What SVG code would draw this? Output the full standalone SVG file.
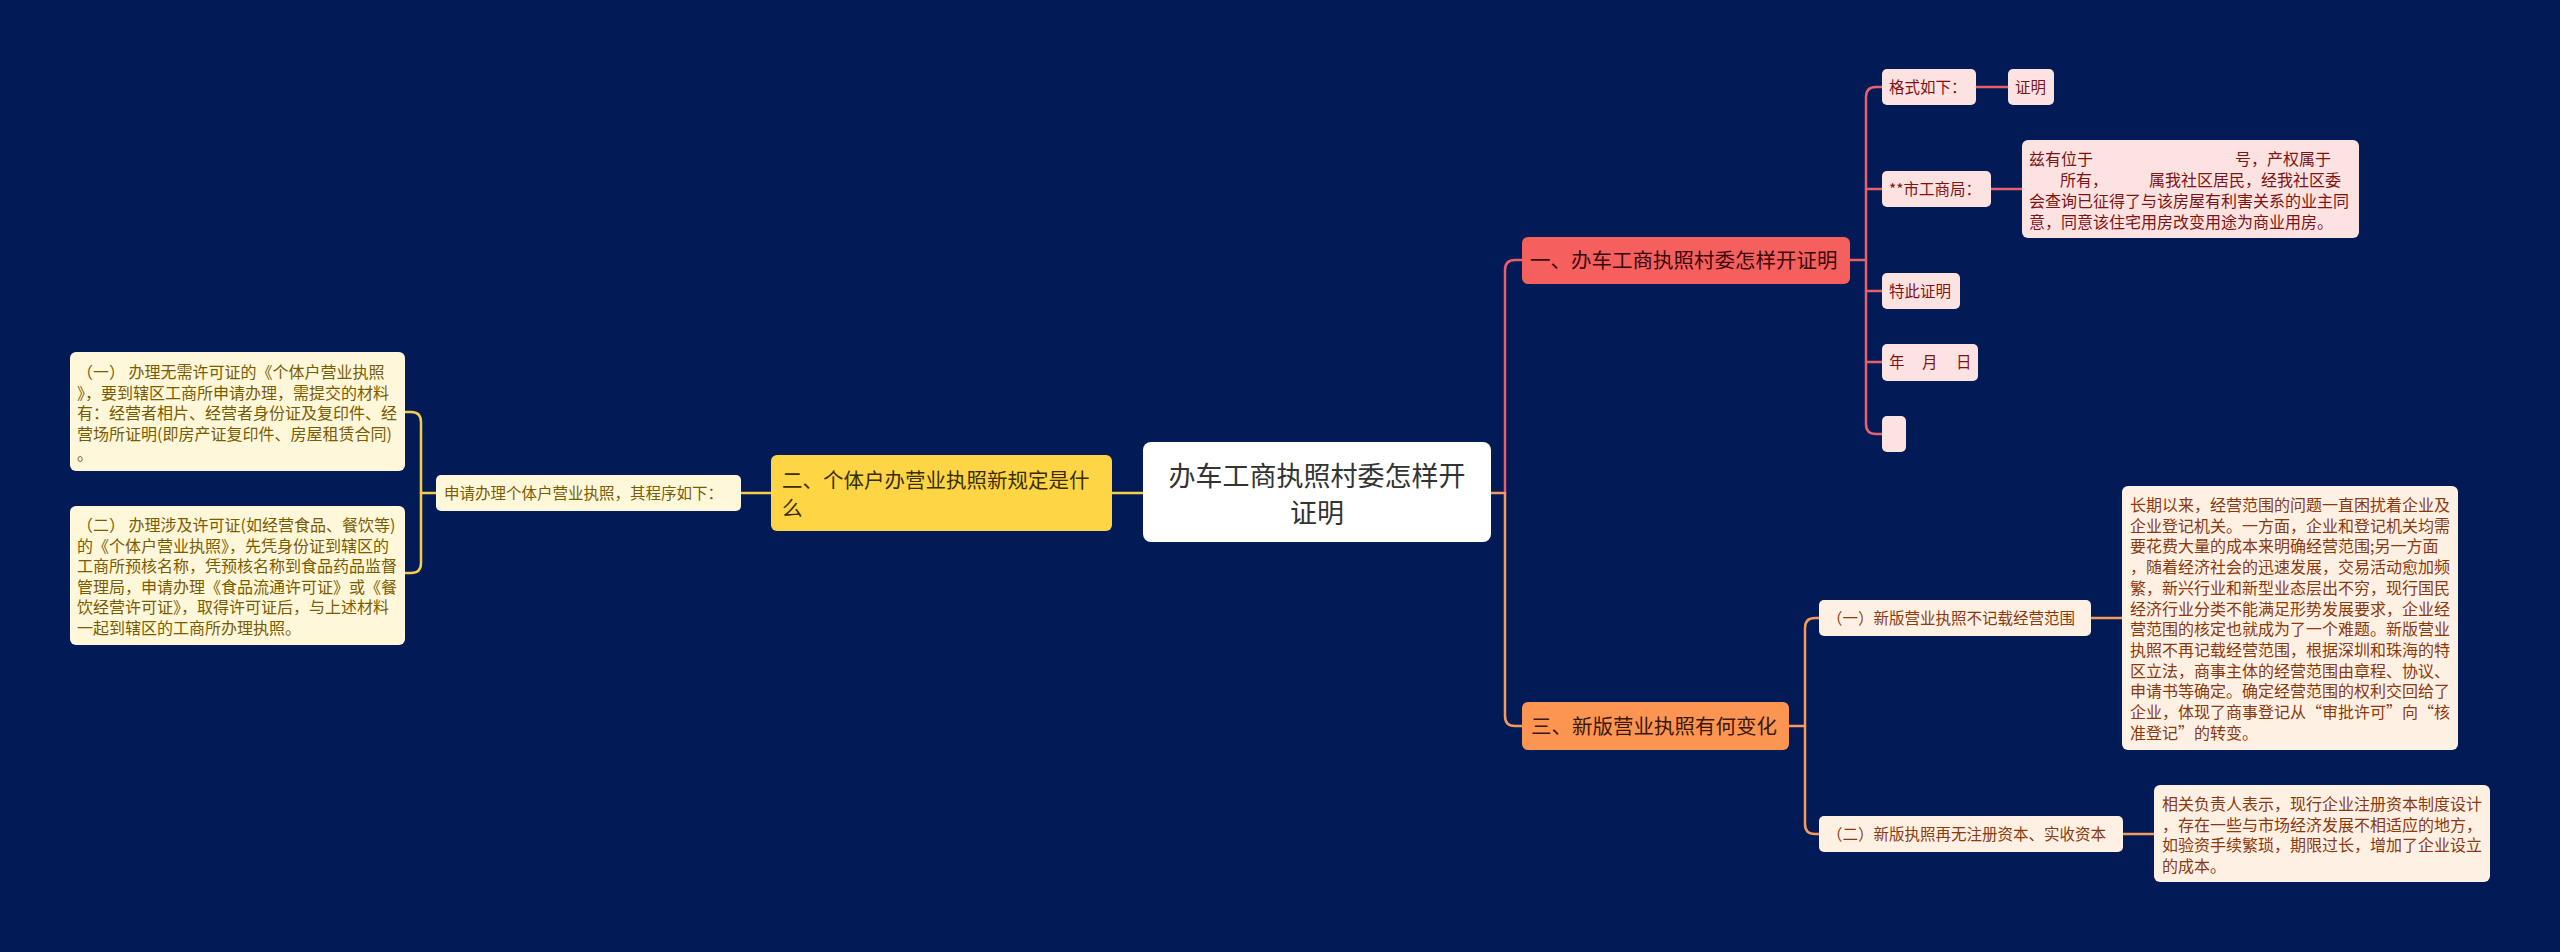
<svg xmlns="http://www.w3.org/2000/svg" width="2560" height="952" viewBox="0 0 2560 952">
<style>
text{font-family:"Noto Sans CJK SC","Noto Sans",sans-serif;}
.c{fill:none;stroke-width:2.5;stroke-linecap:round;stroke-linejoin:round;}
.cy{stroke:#f2cf45;}
.cr{stroke:#e8606a;}
.co{stroke:#f59a5c;}
.t16{font-size:16px;}
.t15{font-size:15.5px;}
.t20{font-size:20.5px;}
.ty{fill:#7a5c00;}
.tr{fill:#7d1414;}
.to{fill:#8a3a0e;}
.by{fill:#fff7da;}
.br{fill:#fde2e2;}
.bo{fill:#fff0e4;}
</style>
<rect width="2560" height="952" fill="#021a56"/>
<g id="connectors">
<path class="c cy" d="M1143,493 H1112"/>
<path class="c cy" d="M771,493 H741"/>
<path class="c cy" d="M436,493 H421"/>
<path class="c cy" d="M405,412 H411 Q421,412 421,422 V563 Q421,573 411,573 H405"/>
<path class="c co" d="M1491,493 H1505"/>
<path class="c cr" d="M1505,493 V270 Q1505,260 1515,260 H1522"/>
<path class="c co" d="M1505,493 V716 Q1505,726 1515,726 H1522"/>
<path class="c cr" d="M1850,260 H1866"/>
<path class="c cr" d="M1882,87 H1876 Q1866,87 1866,97 V424 Q1866,434 1876,434 H1882"/>
<path class="c cr" d="M1866,189 H1882 M1866,291 H1882 M1866,362 H1882"/>
<path class="c cr" d="M1976,87 H2008"/>
<path class="c cr" d="M1991,189 H2022"/>
<path class="c co" d="M1789,726 H1805"/>
<path class="c co" d="M1819,618 H1815 Q1805,618 1805,628 V824 Q1805,834 1815,834 H1819"/>
<path class="c co" d="M2091,618 H2122"/>
<path class="c co" d="M2123,834 H2154"/>
</g>
<g id="root">
<rect x="1143" y="442" width="348" height="100" rx="8" fill="#ffffff"/>
<text x="1317" y="486" font-size="27" fill="#333333" text-anchor="middle">办车工商执照村委怎样开</text>
<text x="1317" y="523" font-size="27" fill="#333333" text-anchor="middle">证明</text>
</g>
<g id="n2">
<rect x="771" y="455" width="341" height="76" rx="6" fill="#fdd545"/>
<text class="t20" x="782" y="487.5" fill="#3a2e00">二、个体户办营业执照新规定是什</text>
<text class="t20" x="782" y="515.5" fill="#3a2e00">么</text>
</g>
<g id="n2a">
<rect class="by" x="436" y="475" width="305" height="36" rx="5"/>
<text class="t15 ty" x="444" y="498.5">申请办理个体户营业执照，其程序如下：</text>
</g>
<g id="n2a1">
<rect class="by" x="70" y="352" width="335" height="119" rx="6"/>
<text class="t16 ty" x="77" y="378" xml:space="preserve">（一） 办理无需许可证的《个体户营业执照</text>
<text class="t16 ty" x="77" y="398.5">》，要到辖区工商所申请办理，需提交的材料</text>
<text class="t16 ty" x="77" y="419">有：经营者相片、经营者身份证及复印件、经</text>
<text class="t16 ty" x="77" y="439.5">营场所证明(即房产证复印件、房屋租赁合同)</text>
<text class="t16 ty" x="77" y="460">。</text>
</g>
<g id="n2a2">
<rect class="by" x="70" y="506" width="335" height="139" rx="6"/>
<text class="t16 ty" x="77" y="531" xml:space="preserve">（二） 办理涉及许可证(如经营食品、餐饮等)</text>
<text class="t16 ty" x="77" y="551.5">的《个体户营业执照》，先凭身份证到辖区的</text>
<text class="t16 ty" x="77" y="572">工商所预核名称，凭预核名称到食品药品监督</text>
<text class="t16 ty" x="77" y="592.5">管理局，申请办理《食品流通许可证》或《餐</text>
<text class="t16 ty" x="77" y="613">饮经营许可证》，取得许可证后，与上述材料</text>
<text class="t16 ty" x="77" y="633.5">一起到辖区的工商所办理执照。</text>
</g>
<g id="n1">
<rect x="1522" y="237" width="328" height="47" rx="6" fill="#f5605f"/>
<text class="t20" x="1530" y="268" fill="#3b0808">一、办车工商执照村委怎样开证明</text>
</g>
<g id="n1a">
<rect class="br" x="1882" y="69" width="94" height="36" rx="5"/>
<text class="t15 tr" x="1889" y="92.5">格式如下：</text>
</g>
<g id="n1a1">
<rect class="br" x="2008" y="69" width="46" height="36" rx="5"/>
<text class="t15 tr" x="2015" y="92.5">证明</text>
</g>
<g id="n1b">
<rect class="br" x="1882" y="171" width="109" height="36" rx="5"/>
<text class="t15 tr" x="1889" y="194.5">**市工商局：</text>
</g>
<g id="n1b1">
<rect class="br" x="2022" y="140" width="337" height="98" rx="6"/>
<text class="t16 tr" y="165"><tspan x="2029">兹有位于</tspan><tspan x="2235">号，产权属于</tspan></text>
<text class="t16 tr" y="186"><tspan x="2060">所有，</tspan><tspan x="2149">属我社区居民，经我社区委</tspan></text>
<text class="t16 tr" x="2029" y="207">会查询已征得了与该房屋有利害关系的业主同</text>
<text class="t16 tr" x="2029" y="228">意，同意该住宅用房改变用途为商业用房。</text>
</g>
<g id="n1c">
<rect class="br" x="1882" y="273" width="78" height="36" rx="5"/>
<text class="t15 tr" x="1889" y="296.5">特此证明</text>
</g>
<g id="n1d">
<rect class="br" x="1882" y="344" width="96" height="37" rx="5"/>
<text class="t15 tr" y="367.5"><tspan x="1889">年</tspan><tspan x="1922">月</tspan><tspan x="1956">日</tspan></text>
</g>
<g id="n1e">
<rect class="br" x="1882" y="416" width="24" height="36" rx="5"/>
</g>
<g id="n3">
<rect x="1522" y="702" width="267" height="48" rx="6" fill="#fd9552"/>
<text class="t20" x="1531" y="733.5" fill="#3b1805">三、新版营业执照有何变化</text>
</g>
<g id="n3a">
<rect class="bo" x="1819" y="600" width="272" height="36" rx="5"/>
<text class="t15 to" x="1827" y="623.5">（一）新版营业执照不记载经营范围</text>
</g>
<g id="n3a1">
<rect class="bo" x="2122" y="486" width="336" height="264" rx="6"/>
<text class="t16 to" x="2130" y="511">长期以来，经营范围的问题一直困扰着企业及</text>
<text class="t16 to" x="2130" y="531.7">企业登记机关。一方面，企业和登记机关均需</text>
<text class="t16 to" x="2130" y="552.4">要花费大量的成本来明确经营范围;另一方面</text>
<text class="t16 to" x="2130" y="573.1">，随着经济社会的迅速发展，交易活动愈加频</text>
<text class="t16 to" x="2130" y="593.8">繁，新兴行业和新型业态层出不穷，现行国民</text>
<text class="t16 to" x="2130" y="614.5">经济行业分类不能满足形势发展要求，企业经</text>
<text class="t16 to" x="2130" y="635.2">营范围的核定也就成为了一个难题。新版营业</text>
<text class="t16 to" x="2130" y="655.9">执照不再记载经营范围，根据深圳和珠海的特</text>
<text class="t16 to" x="2130" y="676.6">区立法，商事主体的经营范围由章程、协议、</text>
<text class="t16 to" x="2130" y="697.3">申请书等确定。确定经营范围的权利交回给了</text>
<text class="t16 to" x="2130" y="718">企业，体现了商事登记从“审批许可”向“核</text>
<text class="t16 to" x="2130" y="738.7">准登记”的转变。</text>
</g>
<g id="n3b">
<rect class="bo" x="1819" y="816" width="304" height="36" rx="5"/>
<text class="t15 to" x="1827" y="839.5">（二）新版执照再无注册资本、实收资本</text>
</g>
<g id="n3b1">
<rect class="bo" x="2154" y="785" width="336" height="97" rx="6"/>
<text class="t16 to" x="2162" y="810">相关负责人表示，现行企业注册资本制度设计</text>
<text class="t16 to" x="2162" y="830.7">，存在一些与市场经济发展不相适应的地方，</text>
<text class="t16 to" x="2162" y="851.4">如验资手续繁琐，期限过长，增加了企业设立</text>
<text class="t16 to" x="2162" y="872.1">的成本。</text>
</g>
</svg>
